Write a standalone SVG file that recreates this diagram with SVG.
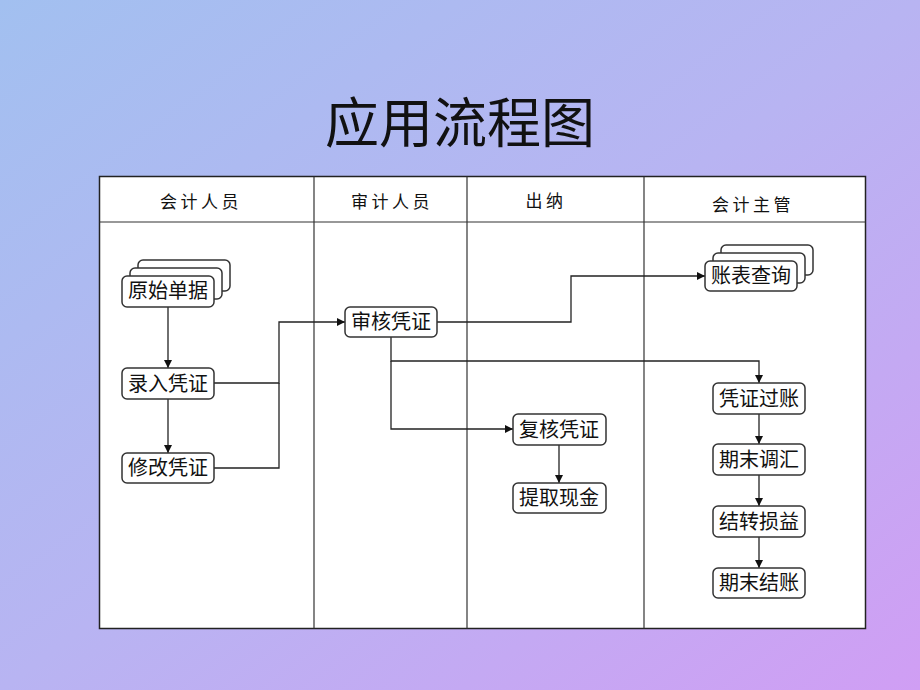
<svg xmlns="http://www.w3.org/2000/svg" width="920" height="690" viewBox="0 0 920 690">
<defs>
<linearGradient id="bg" x1="0" y1="0" x2="1" y2="1">
<stop offset="0" stop-color="#a2c0f0"/>
<stop offset="0.5" stop-color="#b8b4f2"/>
<stop offset="1" stop-color="#d09ef4"/>
</linearGradient>
<marker id="arr" viewBox="0 0 10 10" refX="10" refY="5" markerWidth="8" markerHeight="8" markerUnits="userSpaceOnUse" orient="auto">
<path d="M0,0 L10,5 L0,10 z" fill="#111"/>
</marker>
<style>
.t{font-family:"Noto Sans CJK SC","Liberation Serif",serif;fill:#111;text-anchor:middle}
.title{font-size:54px}
.hd{font-size:17px;letter-spacing:3.5px}
.nt{font-size:20px}
.box{fill:#fff;stroke:#333;stroke-width:1.5}
.grid{stroke:#333;stroke-width:1.2;fill:none}
.c{stroke:#222;stroke-width:1.3;fill:none}
</style>
</defs>
<rect width="920" height="690" fill="url(#bg)"/>
<text class="t title" x="460" y="143">应用流程图</text>
<g id="table">
<rect x="99.5" y="176.5" width="766" height="452" fill="#fff" stroke="#222" stroke-width="1.5"/>
<line class="grid" x1="99.5" y1="222" x2="865.5" y2="222"/>
<line class="grid" x1="314" y1="176.5" x2="314" y2="628.5"/>
<line class="grid" x1="467" y1="176.5" x2="467" y2="628.5"/>
<line class="grid" x1="644" y1="176.5" x2="644" y2="628.5"/>
<text class="t hd" x="201" y="208">会计人员</text>
<text class="t hd" x="392" y="208">审计人员</text>
<text class="t hd" x="546" y="207">出纳</text>
<text class="t hd" x="753" y="211">会计主管</text>
</g>
<g id="connectors">
<path class="c" d="M168 307 V368" marker-end="url(#arr)"/>
<path class="c" d="M168 399 V453" marker-end="url(#arr)"/>
<path class="c" d="M214 383 H279 V322 H345" marker-end="url(#arr)"/>
<path class="c" d="M214 468 H279 V383"/>
<path class="c" d="M437 322 H571 V276 H705" marker-end="url(#arr)"/>
<path class="c" d="M391 337 V361 H759 V383" marker-end="url(#arr)"/>
<path class="c" d="M391 361 V429 H513" marker-end="url(#arr)"/>
<path class="c" d="M559 445 V483" marker-end="url(#arr)"/>
<path class="c" d="M759 414 V444" marker-end="url(#arr)"/>
<path class="c" d="M759 475 V506" marker-end="url(#arr)"/>
<path class="c" d="M759 537 V568" marker-end="url(#arr)"/>
</g>
<g id="n-yuanshi">
<rect class="box" x="138" y="260" width="92" height="31" rx="5"/>
<rect class="box" x="130" y="268" width="92" height="31" rx="5"/>
<rect class="box" x="122" y="276" width="92" height="31" rx="5"/>
<text class="t nt" x="168" y="298">原始单据</text>
</g>
<g id="n-luru">
<rect class="box" x="122" y="368" width="92" height="31" rx="5"/>
<text class="t nt" x="168" y="391">录入凭证</text>
</g>
<g id="n-xiugai">
<rect class="box" x="122" y="453" width="92" height="30" rx="5"/>
<text class="t nt" x="168" y="475">修改凭证</text>
</g>
<g id="n-shenhe">
<rect class="box" x="345" y="307" width="92" height="30" rx="5"/>
<text class="t nt" x="391" y="329">审核凭证</text>
</g>
<g id="n-zhangbiao">
<rect class="box" x="721" y="245" width="92" height="30" rx="5"/>
<rect class="box" x="713" y="253" width="92" height="30" rx="5"/>
<rect class="box" x="705" y="261" width="92" height="30" rx="5"/>
<text class="t nt" x="751" y="283">账表查询</text>
</g>
<g id="n-guozhang">
<rect class="box" x="713" y="383" width="92" height="31" rx="5"/>
<text class="t nt" x="759" y="406">凭证过账</text>
</g>
<g id="n-fuhe">
<rect class="box" x="513" y="414" width="93" height="31" rx="5"/>
<text class="t nt" x="559" y="437">复核凭证</text>
</g>
<g id="n-tiqu">
<rect class="box" x="513" y="483" width="93" height="30" rx="5"/>
<text class="t nt" x="559" y="505">提取现金</text>
</g>
<g id="n-tiaohui">
<rect class="box" x="713" y="444" width="92" height="31" rx="5"/>
<text class="t nt" x="759" y="467">期末调汇</text>
</g>
<g id="n-jiezhuan">
<rect class="box" x="713" y="506" width="92" height="31" rx="5"/>
<text class="t nt" x="759" y="529">结转损益</text>
</g>
<g id="n-jiezhang">
<rect class="box" x="713" y="568" width="92" height="30" rx="5"/>
<text class="t nt" x="759" y="590">期末结账</text>
</g>
</svg>
